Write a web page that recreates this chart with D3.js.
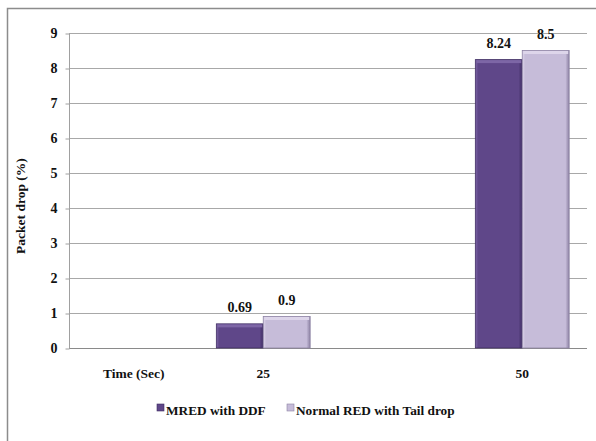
<!DOCTYPE html>
<html>
<head>
<meta charset="utf-8">
<script src="https://cdn.jsdelivr.net/npm/d3@7"></script>
</head>
<body style="margin:0">
<svg id="chart" width="596" height="441"></svg>
<script>
// Packet drop per simulation time, for the two queue schemes
const categories = ["Time (Sec)", "25", "", "50"];
const seriesNames = ["MRED with DDF", "Normal RED with Tail drop"];
const mredValues = [null, 0.69, null, 8.24];
const normalValues = [null, 0.9, null, 8.5];
const yTicks = [0, 1, 2, 3, 4, 5, 6, 7, 8, 9];
const yTitle = "Packet drop (%)";

const colors = {
  "MRED with DDF": { base: "#5f4789", light: "#7d66a6", dark: "#3f2d63" },
  "Normal RED with Tail drop": { base: "#c6bcd9", light: "#ddd5ea", dark: "#8d82a4" }
};

function styleLabel(sel, size) {
  return sel.style("font-family", '"Liberation Serif"').style("font-weight", "bold")
    .style("font-size", size + "px").attr("fill", "#111");
}

const svg = d3.select("#chart");
const plot = { left: 69, right: 587, top: 33, bottom: 348 };

// Outer frame of the chart area
svg.append("rect")
  .attr("x", 7.5).attr("y", 8.5)
  .attr("width", 620).attr("height", 460)
  .attr("fill", "none").attr("stroke", "#8c8c8c").attr("stroke-width", 1.5);

const x = d3.scaleBand().domain(categories).range([plot.left, plot.right]).padding(0);
const y = d3.scaleLinear().domain([0, 9]).range([plot.bottom, plot.top]);
const inner = d3.scaleBand().domain(seriesNames)
  .range([0, x.bandwidth()]).paddingInner(0).paddingOuter(0.38);

// Horizontal gridlines
svg.append("g").selectAll("line").data(yTicks).join("line")
  .attr("x1", plot.left).attr("x2", plot.right)
  .attr("y1", d => y(d) + 0.5).attr("y2", d => y(d) + 0.5)
  .attr("stroke", d => d === 0 ? "#8a8a8a" : "#a8a8a8").attr("stroke-width", 1);

// Y axis
const yAxis = d3.axisLeft(y).tickValues(yTicks).tickSize(4).tickPadding(8).tickFormat(d3.format("d"));
const gy = svg.append("g").attr("transform", `translate(${plot.left + 0.5},0.5)`).call(yAxis);
gy.attr("font-family", null).attr("font-size", null);
gy.select(".domain").attr("stroke", "#a0a0a0").attr("d", `M0,${y(9)}V${y(0)}`);
gy.selectAll(".tick line").attr("stroke", "#a0a0a0");
styleLabel(gy.selectAll(".tick text"), 14);

// Category labels
styleLabel(svg.append("g").selectAll("text").data(categories).join("text")
  .attr("x", d => x(d) + x.bandwidth() / 2)
  .attr("y", 378)
  .attr("text-anchor", "middle")
  .text(d => d), 13.5);

// Y title
styleLabel(svg.append("text")
  .attr("transform", "translate(25,206) rotate(-90)")
  .attr("text-anchor", "middle")
  .text(yTitle), 13.5);

// Bar gradients (bevelled look)
const defs = svg.append("defs");
seriesNames.forEach((name, i) => {
  const c = colors[name];
  const g = defs.append("linearGradient").attr("id", "grad" + i)
    .attr("x1", 0).attr("x2", 1).attr("y1", 0).attr("y2", 0);
  g.append("stop").attr("offset", "0%").attr("stop-color", c.light);
  g.append("stop").attr("offset", "6%").attr("stop-color", c.base);
  g.append("stop").attr("offset", "92%").attr("stop-color", c.base);
  g.append("stop").attr("offset", "100%").attr("stop-color", c.dark);
});

const rows = [];
categories.forEach((cat, ci) => {
  [mredValues, normalValues].forEach((vals, si) => {
    if (vals[ci] != null) rows.push({ cat, series: seriesNames[si], si, value: vals[ci] });
  });
});

const bars = svg.append("g").selectAll("g").data(rows).join("g");
bars.append("rect")
  .attr("x", d => x(d.cat) + inner(d.series))
  .attr("y", d => y(d.value))
  .attr("width", inner.bandwidth())
  .attr("height", d => y(0) - y(d.value))
  .attr("fill", d => `url(#grad${d.si})`)
  .attr("stroke", d => colors[d.series].dark)
  .attr("stroke-width", 0.8);
// Top highlight strip
bars.append("rect")
  .attr("x", d => x(d.cat) + inner(d.series) + 1)
  .attr("y", d => y(d.value) + 0.5)
  .attr("width", inner.bandwidth() - 2)
  .attr("height", 3)
  .attr("fill", d => colors[d.series].light);

// Value labels
styleLabel(bars.append("text")
  .attr("x", d => x(d.cat) + inner(d.series) + inner.bandwidth() / 2)
  .attr("y", d => y(d.value) - 12)
  .attr("text-anchor", "middle")
  .text(d => d.value), 14);

// Legend
const legendItems = [
  { name: seriesNames[0], x: 157 },
  { name: seriesNames[1], x: 287 }
];
const lg = svg.append("g").selectAll("g").data(legendItems).join("g")
  .attr("transform", d => `translate(${d.x},404)`);
lg.append("rect").attr("width", 7).attr("height", 7)
  .attr("fill", d => colors[d.name].base)
  .attr("stroke", d => colors[d.name].dark).attr("stroke-width", 0.6);
styleLabel(lg.append("text").attr("x", 9).attr("y", 11)
  .text(d => d.name), 13.3);
</script>
</body>
</html>
